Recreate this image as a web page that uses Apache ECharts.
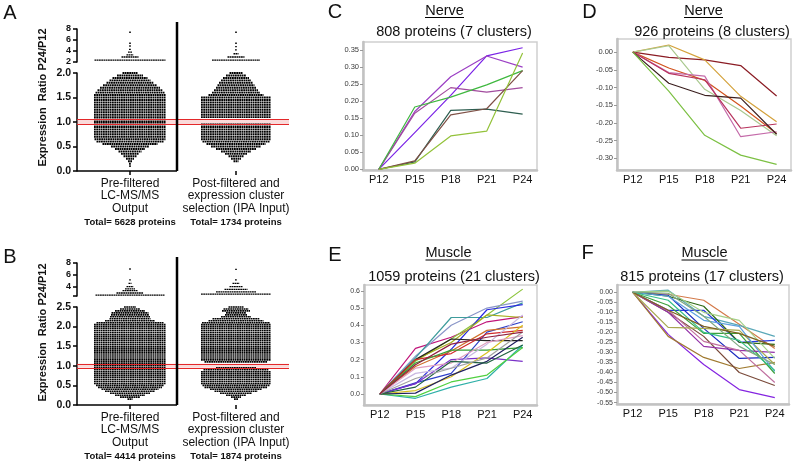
<!DOCTYPE html>
<html><head><meta charset="utf-8">
<script src="https://cdn.jsdelivr.net/npm/echarts@6/dist/echarts.min.js"></script>
<style>html,body{margin:0;padding:0;background:#fff}#c{width:794px;height:467px}</style>
</head><body><div id="c"></div>
<script>
// ---------------- DATA ----------------
const timepoints = ['P12', 'P15', 'P18', 'P21', 'P24'];
const swarmCategories = [['Pre-filtered', 'LC-MS/MS', 'Output'], ['Post-filtered and', 'expression cluster', 'selection (IPA Input)']];
const totalsA = ['Total= 5628 proteins', 'Total= 1734 proteins'];
const totalsB = ['Total= 4414 proteins', 'Total= 1874 proteins'];
const refBand = [0.95, 1.05];

// Panel A swarm rows (ratio value) and dot counts per row
const aLowRows = [0.10,0.15,0.20,0.25,0.30,0.35,0.40,0.45,0.50,0.55,0.60,0.65,0.70,0.75,0.80,0.85,0.90,0.95,1.00,1.05,1.10,1.15,1.20,1.25,1.30,1.35,1.40,1.45,1.50,1.55,1.60,1.65,1.70,1.75,1.80,1.85,1.90,1.95,2.00];
const aPreLow  = [2,4,8,16,26,36,46,60,76,110,134,142,144,144,144,144,144,144,144,144,144,144,144,144,144,144,144,144,144,144,138,130,120,108,94,82,70,52,30];
const aPostLow = [0,0,10,20,30,44,60,80,100,118,134,140,140,140,140,140,140,140,0,0,140,140,140,140,140,140,140,140,140,110,96,88,80,74,68,60,52,40,26];
const aPreUpRows  = [2.35, 2.9, 3.3, 3.8, 4.3, 4.9, 5.4, 7.4];
const aPreUp      = [142, 34, 14, 8, 4, 2, 1, 1];
const aPostUpRows = [2.35, 2.9, 3.5, 4.2, 4.8, 5.4, 7.4];
const aPostUp     = [96, 34, 10, 4, 1, 1, 1];

// Panel B swarm rows
const bLowRows = [0.15,0.20,0.25,0.30,0.35,0.40,0.45,0.50,0.55,0.60,0.65,0.70,0.75,0.80,0.85,0.90,0.95,1.00,1.05,1.10,1.15,1.20,1.25,1.30,1.35,1.40,1.45,1.50,1.55,1.60,1.65,1.70,1.75,1.80,1.85,1.90,1.95,2.00,2.05,2.10,2.15,2.20,2.25,2.30,2.35,2.40,2.45,2.50];
const bPreLow  = [10,40,60,80,100,114,128,136,144,144,144,144,144,144,144,144,144,144,144,144,144,144,144,144,144,144,144,144,144,144,144,144,144,144,144,144,144,144,144,134,100,82,80,76,74,60,40,24];
const bPostLow = [8,20,40,64,86,104,126,134,140,140,140,140,140,140,140,130,80,0,0,126,140,140,140,140,140,140,140,140,140,140,140,140,140,140,140,140,140,140,140,136,110,94,60,44,40,56,50,30];
const bPreUpRows  = [2.65, 3.0, 3.4, 3.7, 4.05, 4.6, 5.2, 7.0];
const bPreUp      = [138, 54, 30, 20, 14, 6, 2, 1];
const bPostUpRows = [2.8, 3.2, 3.6, 4.05, 4.6, 5.2, 6.95];
const bPostUp     = [140, 80, 46, 26, 14, 4, 1];

// Axis tick labels
const ticksAUp = [2, 4, 6, 8];
const ticksBUpTicks = [2.5, 4, 6, 8];
const ticksBUpLabels = [4, 6, 8];
const ticksC = [0, 0.05, 0.10, 0.15, 0.20, 0.25, 0.30, 0.35];
const ticksD = [0, -0.05, -0.10, -0.15, -0.20, -0.25, -0.30];
const ticksE = [0, 0.1, 0.2, 0.3, 0.4, 0.5, 0.6];
const ticksF = [0, -0.05, -0.10, -0.15, -0.20, -0.25, -0.30, -0.35, -0.40, -0.45, -0.50, -0.55];

// Panel C: Nerve up-regulated clusters
const nerveUp = [
  [0, 0.108, 0.217, 0.333, 0.357],
  [0, 0.170, 0.272, 0.333, 0.300],
  [0, 0.165, 0.240, 0.227, 0.240],
  [0, 0.183, 0.212, 0.248, 0.290],
  [0, 0.022, 0.173, 0.177, 0.162],
  [0, 0.025, 0.160, 0.178, 0.290],
  [0, 0.018, 0.098, 0.112, 0.342]
];
// Panel D: Nerve down-regulated clusters
const nerveDown = [
  [0, -0.015, -0.022, -0.038, -0.124],
  [0, 0.020, -0.022, -0.125, -0.197],
  [0, 0.018, -0.105, -0.165, -0.236],
  [0, -0.045, -0.080, -0.152, -0.230],
  [0, -0.058, -0.068, -0.239, -0.225],
  [0, -0.060, -0.078, -0.215, -0.203],
  [0, -0.088, -0.122, -0.130, -0.232],
  [0, -0.110, -0.235, -0.291, -0.317]
];
// Panel E: Muscle up-regulated clusters
const muscleUp = [
  [0, 0.265, 0.330, 0.420, 0.450],
  [0, 0.190, 0.320, 0.460, 0.610],
  [0, 0.220, 0.400, 0.500, 0.540],
  [0, 0.210, 0.445, 0.445, 0.530],
  [0, 0.060, 0.260, 0.490, 0.520],
  [0, 0.200, 0.300, 0.460, 0.445],
  [0, 0.065, 0.120, 0.360, 0.420],
  [0, 0.200, 0.320, 0.310, 0.310],
  [0, 0.160, 0.250, 0.370, 0.390],
  [0, 0.200, 0.235, 0.350, 0.370],
  [0, 0.060, 0.200, 0.210, 0.190],
  [0, 0.180, 0.255, 0.255, 0.270],
  [0, -0.025, 0.040, 0.090, 0.285],
  [0, -0.015, 0.070, 0.110, 0.270],
  [0, 0.020, 0.100, 0.240, 0.400],
  [0, 0.005, 0.110, 0.190, 0.330],
  [0, 0.120, 0.150, 0.290, 0.460],
  [0, 0.150, 0.180, 0.300, 0.340],
  [0, 0.040, 0.190, 0.180, 0.285],
  [0, 0.090, 0.150, 0.210, 0.360],
  [0, 0.170, 0.290, 0.330, 0.360]
];
// Panel F: Muscle down-regulated clusters
const muscleDown = [
  [0, -0.210, -0.360, -0.485, -0.525],
  [0, -0.220, -0.325, -0.380, -0.350],
  [0, -0.100, -0.220, -0.400, -0.465],
  [0, -0.010, -0.040, -0.160, -0.280],
  [0, 0.010, -0.120, -0.165, -0.220],
  [0, -0.090, -0.090, -0.250, -0.240],
  [0, -0.015, -0.180, -0.330, -0.325],
  [0, -0.065, -0.205, -0.205, -0.405],
  [0, -0.020, -0.070, -0.250, -0.260],
  [0, -0.100, -0.270, -0.290, -0.300],
  [0, -0.090, -0.245, -0.290, -0.450],
  [0, 0.005, -0.100, -0.140, -0.330],
  [0, -0.175, -0.180, -0.190, -0.360],
  [0, -0.020, -0.140, -0.170, -0.395],
  [0, -0.040, -0.200, -0.240, -0.390],
  [0, -0.090, -0.170, -0.205, -0.270],
  [0, -0.005, -0.120, -0.270, -0.360]
];

// ---------------- STYLE ----------------
const FONT = '"Liberation Sans", Arial, sans-serif';
const colorsC = ['#7a22e6', '#9b3fc4', '#a24c9e', '#3fb83f', '#2e5e50', '#7f5046', '#93c23a'];
const colorsD = ['#8b1c24', '#d4a23c', '#a9c98f', '#d2541f', '#c46aa9', '#b8345e', '#3b1f1f', '#7cc043'];
const colorsE = ['#c0157a', '#8cc43c', '#8a96c8', '#3e9c9c', '#2a2ae0', '#a8b020', '#3040c8', '#222222', '#d0702a', '#d02a2a', '#7a32c8', '#34a034', '#30b0a8', '#50d040', '#d8c020', '#202060', '#c8b8e0', '#e0a0c0', '#206040', '#a0a0a0', '#902040'];
const colorsF = ['#8424e0', '#a07a30', '#7a4a3a', '#d47a4a', '#5aa8b8', '#2838e0', '#1c2cc0', '#3ca03c', '#2e6a14', '#9432a8', '#c070a0', '#a4d088', '#a8a850', '#5ca0e0', '#34c088', '#7e6020', '#80a880'];
const DOT_PITCH = 0.5;

// ---------------- BUILD ----------------
const chart = echarts.init(document.getElementById('c'), null, {renderer: 'canvas'});

function rowRenderer(lw) {
  return function (params, api) {
    const n = api.value(2);
    const c = api.coord([api.value(0), api.value(1)]);
    const hw = Math.max(n * DOT_PITCH / 2, 0.8);
    return {
      type: 'line',
      shape: {x1: c[0] - hw, y1: c[1], x2: c[0] + hw, y2: c[1]},
      style: {stroke: '#000', lineWidth: lw, lineDash: n > 3 ? [1.8, 0.45] : null}
    };
  };
}
function swarm(ai, center, rows, counts, lw, extra) {
  const data = [];
  rows.forEach((v, i) => { if (counts[i] > 0) data.push([center, v, counts[i]]); });
  return Object.assign({
    type: 'custom', xAxisIndex: ai, yAxisIndex: ai, data: data,
    renderItem: rowRenderer(lw), silent: true, animation: false, z: 3
  }, extra || {});
}
function refLines() {
  return {
    markLine: {silent: true, symbol: 'none', label: {show: false}, animation: false,
      lineStyle: {color: '#e3282a', width: 1, type: 'solid'},
      data: refBand.map(v => ({yAxis: v}))},
    markArea: {silent: true, animation: false, itemStyle: {color: 'rgba(240,150,150,0.35)'},
      data: [[{yAxis: refBand[0]}, {yAxis: refBand[1]}]]}
  };
}
function lineSeries(ai, rows, colors) {
  return rows.map((r, k) => ({
    type: 'line', xAxisIndex: ai, yAxisIndex: ai, data: r.map((v, i) => [i, v]),
    symbol: 'none', silent: true, animation: false,
    lineStyle: {color: colors[k], width: 1.2}
  }));
}

const grids = [
  {left: 77, top: 29, width: 212, height: 33},   // A upper
  {left: 77, top: 73, width: 212, height: 98},   // A lower
  {left: 77, top: 263, width: 212, height: 33},  // B upper
  {left: 77, top: 307, width: 212, height: 98},  // B lower
  {left: 363, top: 42, width: 174, height: 128, show: true, borderColor: '#cfcfcf', borderWidth: 1.5}, // C
  {left: 617, top: 39, width: 174, height: 131, show: true, borderColor: '#cfcfcf', borderWidth: 1.5}, // D
  {left: 364, top: 285, width: 173, height: 120, show: true, borderColor: '#cfcfcf', borderWidth: 1.5}, // E
  {left: 617, top: 285, width: 172, height: 119, show: true, borderColor: '#cfcfcf', borderWidth: 1.5}  // F
];

function swarmXAxis(gi, totals, showLabels) {
  return {
    gridIndex: gi, type: 'value', min: 0, max: 2, show: showLabels,
    axisLine: {show: false}, splitLine: {show: false},
    axisTick: {show: true, customValues: [0.5, 1.5], length: 4, lineStyle: {color: '#000', width: 1.5}},
    axisLabel: {
      show: true, customValues: [0.5, 1.5], margin: 6,
      formatter: function (v) {
        const i = Math.round(v - 0.5);
        return swarmCategories[i].map(s => '{c|' + s + '}').join('\n') + '\n{t|' + totals[i] + '}';
      },
      rich: {
        c: {fontFamily: FONT, fontSize: 12, lineHeight: 12.5, color: '#111', align: 'center'},
        t: {fontFamily: FONT, fontSize: 9.5, fontWeight: 'bold', lineHeight: 16, color: '#111', align: 'center'}
      }
    }
  };
}
function swarmYAxis(gi, min, max, opts) {
  return Object.assign({
    gridIndex: gi, type: 'value', min: min, max: max,
    axisLine: {show: true, lineStyle: {color: '#000', width: 1.5}},
    axisTick: {show: true, length: 4, lineStyle: {color: '#000', width: 1.5}},
    splitLine: {show: false},
    axisLabel: {fontFamily: FONT, fontSize: 10.5, fontWeight: 'bold', color: '#111', margin: 6}
  }, opts);
}
function lineXAxis(gi) {
  return {
    gridIndex: gi, type: 'value', min: -0.44, max: 4.4,
    axisLine: {show: true, onZero: false, lineStyle: {color: '#c2c2c2', width: 2.5}},
    axisTick: {show: false}, splitLine: {show: false},
    axisLabel: {customValues: [0, 1, 2, 3, 4], formatter: v => timepoints[Math.round(v)],
      fontFamily: FONT, fontSize: 11, color: '#111', margin: 4}
  };
}
function lineYAxis(gi, min, max, ticks, digits, fs) {
  return {
    gridIndex: gi, type: 'value', min: min, max: max,
    axisLine: {show: true, onZero: false, lineStyle: {color: '#c2c2c2', width: 2.5}},
    axisTick: {show: true, customValues: ticks, length: 3, lineStyle: {color: '#999', width: 1}},
    splitLine: {show: false},
    axisLabel: {customValues: ticks, formatter: v => v.toFixed(digits),
      fontFamily: FONT, fontSize: fs, color: '#3a3a3a', margin: 4}
  };
}

const xAxes = [
  swarmXAxis(0, totalsA, false),
  swarmXAxis(1, totalsA, true),
  swarmXAxis(2, totalsB, false),
  swarmXAxis(3, totalsB, true),
  lineXAxis(4), lineXAxis(5), lineXAxis(6), lineXAxis(7)
];
const yAxes = [
  swarmYAxis(0, 2, 8, {interval: 2, axisLabel: {customValues: ticksAUp, fontFamily: FONT, fontSize: 9, fontWeight: 'bold', color: '#111', margin: 6}}),
  swarmYAxis(1, 0, 2, {interval: 0.5, axisLabel: {fontFamily: FONT, fontSize: 10.5, fontWeight: 'bold', color: '#111', margin: 6, formatter: v => v.toFixed(1)}}),
  swarmYAxis(2, 2.5, 8, {axisTick: {show: true, customValues: ticksBUpTicks, length: 4, lineStyle: {color: '#000', width: 1.5}},
    axisLabel: {customValues: ticksBUpLabels, fontFamily: FONT, fontSize: 9, fontWeight: 'bold', color: '#111', margin: 6}}),
  swarmYAxis(3, 0, 2.5, {interval: 0.5, axisLabel: {fontFamily: FONT, fontSize: 10.5, fontWeight: 'bold', color: '#111', margin: 6, formatter: v => v.toFixed(1)}}),
  lineYAxis(4, -0.002, 0.374, ticksC, 2, 7.5),
  lineYAxis(5, -0.333, 0.037, ticksD, 2, 7.5),
  lineYAxis(6, -0.064, 0.634, ticksE, 1, 7),
  lineYAxis(7, -0.557, 0.036, ticksF, 2, 7)
];

const series = [
  swarm(0, 0.5, aPreUpRows, aPreUp, 1.4),
  swarm(0, 1.5, aPostUpRows, aPostUp, 1.4),
  swarm(1, 0.5, aLowRows, aPreLow, 1.95, refLines()),
  swarm(1, 1.5, aLowRows, aPostLow, 1.95),
  swarm(2, 0.5, bPreUpRows, bPreUp, 1.3),
  swarm(2, 1.5, bPostUpRows, bPostUp, 1.3),
  swarm(3, 0.5, bLowRows, bPreLow, 1.6, refLines()),
  swarm(3, 1.5, bLowRows, bPostLow, 1.6)
].concat(
  lineSeries(4, nerveUp, colorsC),
  lineSeries(5, nerveDown, colorsD),
  lineSeries(6, muscleUp, colorsE),
  lineSeries(7, muscleDown, colorsF)
);

function txt(t, x, y, font) {
  return {type: 'text', x: x, y: y, silent: true, z: 10,
    style: {text: t, x: 0, y: 0, fill: '#111', font: font,
      textAlign: 'center', textVerticalAlign: 'middle', verticalAlign: 'middle'}};
}
function hline(x1, x2, y, w) {
  return {type: 'line', silent: true, z: 10, shape: {x1: x1, y1: y, x2: x2, y2: y}, style: {stroke: '#000', lineWidth: w}};
}
function vline(x, y1, y2, w) {
  return {type: 'line', silent: true, z: 10, shape: {x1: x, y1: y1, x2: x, y2: y2}, style: {stroke: '#000', lineWidth: w}};
}
const LETTER = '20px ' + FONT;
const HEAD = '14.5px ' + FONT;
const YLAB = 'bold 11px ' + FONT;

const graphic = [
  txt('A', 10, 13, LETTER), txt('B', 10, 257, LETTER), txt('C', 335, 12, LETTER),
  txt('D', 589.5, 12.5, LETTER), txt('E', 335, 255, LETTER), txt('F', 587.5, 253, LETTER),
  txt('Nerve', 444.5, 11, HEAD), hline(425, 464, 17.5, 1),
  txt('808 proteins (7 clusters)', 454, 31.5, HEAD),
  txt('Nerve', 703.5, 11, HEAD), hline(684, 723, 17.5, 1),
  txt('926 proteins (8 clusters)', 712, 31.5, HEAD),
  txt('Muscle', 448.5, 253, HEAD), hline(425.5, 471.5, 260, 1),
  txt('1059 proteins (21 clusters)', 454, 277, HEAD),
  txt('Muscle', 704.5, 253, HEAD), hline(681.5, 727.5, 260, 1),
  txt('815 proteins (17 clusters)', 702, 277, HEAD),
  Object.assign(txt('Expression  Ratio P24/P12', 43, 97.5, YLAB), {rotation: Math.PI / 2}),
  Object.assign(txt('Expression  Ratio P24/P12', 43, 332.5, YLAB), {rotation: Math.PI / 2}),
  vline(177, 22, 171, 2.5), vline(177, 257, 405, 2.5),
  hline(77, 177, 171, 1.5), hline(77, 177, 405, 1.5)
];

chart.setOption({
  animation: false,
  backgroundColor: '#fff',
  grid: grids,
  xAxis: xAxes,
  yAxis: yAxes,
  series: series,
  graphic: graphic
});
</script></body></html>
